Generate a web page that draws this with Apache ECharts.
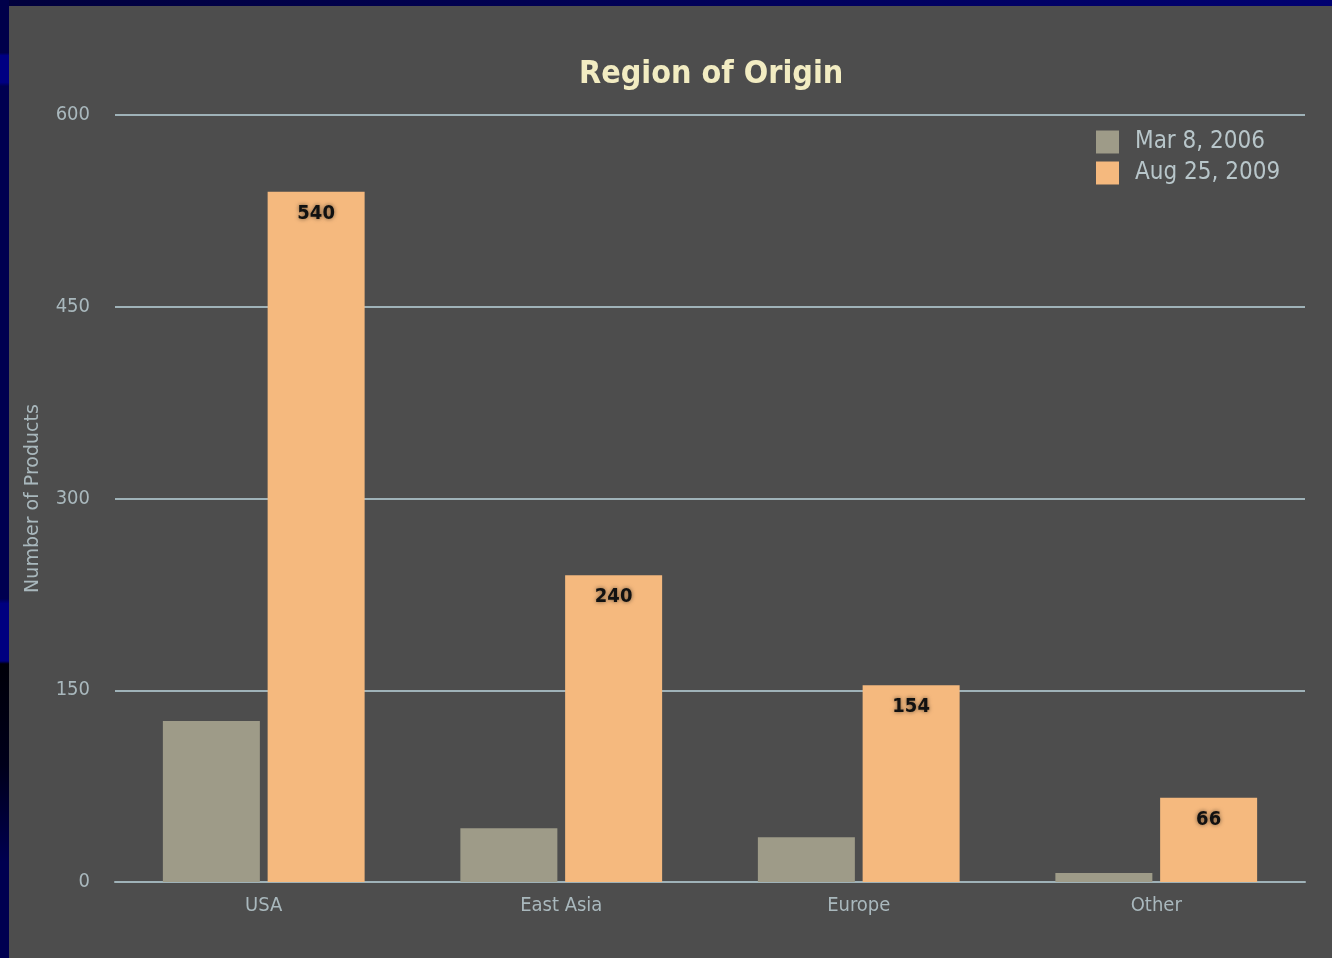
<!DOCTYPE html>
<html>
<head>
<meta charset="utf-8">
<script src="https://cdn.jsdelivr.net/npm/echarts@6/dist/echarts.min.js"></script>
<style>
  html, body { margin: 0; padding: 0; width: 1332px; height: 958px; overflow: hidden; }
  body { background: linear-gradient(90deg, #00003c 0%, #00005c 60%, #000070 100%); position: relative; }
  #side { position: absolute; left: 0; top: 0; width: 9px; height: 958px;
    background: linear-gradient(180deg, #00004a 0%, #00004a 5.5%, #000082 5.8%, #000082 8.6%, #000050 9%,
      #000050 62.5%, #000080 63%, #000080 69%, #000008 69.3%, #00001a 80%, #000050 90%, #000050 100%); }
  #chart { position: absolute; left: 9px; top: 6px; width: 1323px; height: 952px; background: #4d4d4d; }
</style>
</head>
<body>
<div id="side"></div>
<div id="chart"></div>
<script>
// Product counts by region of origin, two snapshots
const categories = ['USA', 'East Asia', 'Europe', 'Other'];
const seriesNames = ['Mar 8, 2006', 'Aug 25, 2009'];
const counts2006 = [126, 42, 35, 7];
const counts2009 = [540, 240, 154, 66];
const yTicks = [0, 150, 300, 450, 600];

const axisText = '#a9b8bd';
const gridColor = '#9fb2b8';
const font = 'DejaVu Sans Condensed, DejaVu Sans';

const chart = echarts.init(document.getElementById('chart'));
chart.setOption({
  backgroundColor: '#4d4d4d',
  animation: false,
  title: {
    text: 'Region of Origin',
    left: 565, top: 48,
    textStyle: { color: '#f2ecc2', fontSize: 32, fontWeight: 'bold', fontFamily: font }
  },
  legend: {
    orient: 'vertical',
    left: 1082, top: 119,
    itemWidth: 23, itemHeight: 23, itemGap: 7,
    icon: 'rect',
    textStyle: { color: '#b8c6ca', fontSize: 24, fontFamily: font, padding: [0, 0, 0, 11] },
    data: seriesNames
  },
  grid: { left: 106, right: 27, top: 109, bottom: 76 },
  xAxis: {
    type: 'category',
    data: categories,
    axisLine: { lineStyle: { color: gridColor, width: 2 } },
    axisTick: { show: false },
    axisLabel: { color: axisText, fontSize: 20, margin: 14, fontFamily: font }
  },
  yAxis: {
    type: 'value',
    min: yTicks[0], max: yTicks[yTicks.length - 1], interval: yTicks[1] - yTicks[0],
    name: 'Number of Products',
    nameLocation: 'middle',
    nameGap: 72,
    nameTextStyle: { color: axisText, fontSize: 19, fontFamily: 'DejaVu Sans' },
    axisLine: { show: false },
    axisTick: { show: false },
    axisLabel: { color: axisText, fontSize: 20, margin: 25, fontFamily: font },
    splitLine: { lineStyle: { color: gridColor, width: 2 } }
  },
  series: [
    {
      name: seriesNames[0],
      type: 'bar',
      data: counts2006,
      barWidth: 97,
      barGap: '8%',
      itemStyle: { color: '#9e9b88' }
    },
    {
      name: seriesNames[1],
      type: 'bar',
      data: counts2009,
      barWidth: 97,
      barGap: '8%',
      itemStyle: { color: '#f5b97e' },
      label: {
        show: true,
        position: 'insideTop',
        distance: 12,
        color: '#111111',
        fontSize: 20,
        fontWeight: 'bold',
        fontFamily: font,
        textShadowColor: 'rgba(0,0,0,0.55)',
        textShadowBlur: 4
      }
    }
  ]
});
</script>
</body>
</html>
